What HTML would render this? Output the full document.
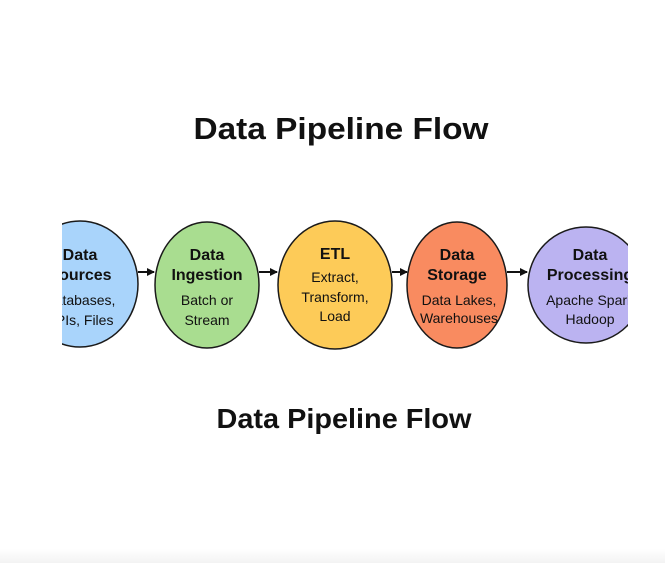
<!DOCTYPE html>
<html><head><meta charset="utf-8"><style>
html,body{margin:0;padding:0;background:#fff;}
body{width:665px;height:563px;overflow:hidden;position:relative;font-family:"Liberation Sans",sans-serif;}
.bar{position:absolute;left:0;right:0;bottom:0;height:14px;background:linear-gradient(#fff,#f3f3f3);}
</style></head><body>
<svg width="665" height="563" viewBox="0 0 665 563" xmlns="http://www.w3.org/2000/svg" style="position:absolute;left:0;top:0">
<defs>
<clipPath id="c"><rect x="62" y="0" width="566" height="563"/></clipPath>
<marker id="a" markerWidth="8" markerHeight="8" refX="7" refY="4" orient="auto" markerUnits="userSpaceOnUse"><path d="M0,0 L8,4 L0,8 z" fill="#111"/></marker>
</defs>
<text x="341" y="139" font-size="31" font-weight="bold" text-anchor="middle" textLength="295" lengthAdjust="spacingAndGlyphs" fill="#111">Data Pipeline Flow</text>
<text x="344" y="428" font-size="28" font-weight="bold" text-anchor="middle" textLength="255" lengthAdjust="spacingAndGlyphs" fill="#111">Data Pipeline Flow</text>
<g clip-path="url(#c)" stroke="#1a1a1a" stroke-width="1.5">
<ellipse cx="80" cy="284" rx="58" ry="63" fill="#a9d4fb"/>
<ellipse cx="207" cy="285" rx="52" ry="63" fill="#a9dd90"/>
<ellipse cx="335" cy="285" rx="57" ry="64" fill="#fdcb58"/>
<ellipse cx="457" cy="285" rx="50" ry="63" fill="#f98b60"/>
<ellipse cx="586" cy="285" rx="58" ry="58" fill="#bbb3f1"/>
</g>
<g stroke="#111" stroke-width="2">
<line x1="138" y1="272" x2="154" y2="272" marker-end="url(#a)"/>
<line x1="259" y1="272" x2="277" y2="272" marker-end="url(#a)"/>
<line x1="392" y1="272" x2="407" y2="272" marker-end="url(#a)"/>
<line x1="507" y1="272" x2="527" y2="272" marker-end="url(#a)"/>
</g>
<g clip-path="url(#c)" fill="#111" text-anchor="middle">
<g font-size="16" font-weight="bold">
<text x="80" y="260">Data</text><text x="80" y="280">Sources</text>
<text x="207" y="260">Data</text><text x="207" y="280">Ingestion</text>
<text x="335" y="259">ETL</text>
<text x="457" y="260">Data</text><text x="457" y="280">Storage</text>
<text x="590" y="260">Data</text><text x="590" y="280">Processing</text>
</g>
<g font-size="14">
<text x="80" y="305">Databases,</text><text x="80" y="325">APIs, Files</text>
<text x="207" y="305">Batch or</text><text x="207" y="325">Stream</text>
<text x="335" y="282">Extract,</text><text x="335" y="302">Transform,</text><text x="335" y="321">Load</text>
<text x="459" y="305">Data Lakes,</text><text x="459" y="323">Warehouses</text>
<text x="592" y="305">Apache Spark,</text><text x="590" y="324">Hadoop</text>
</g>
</g>
</svg>
<div class="bar"></div>
</body></html>
